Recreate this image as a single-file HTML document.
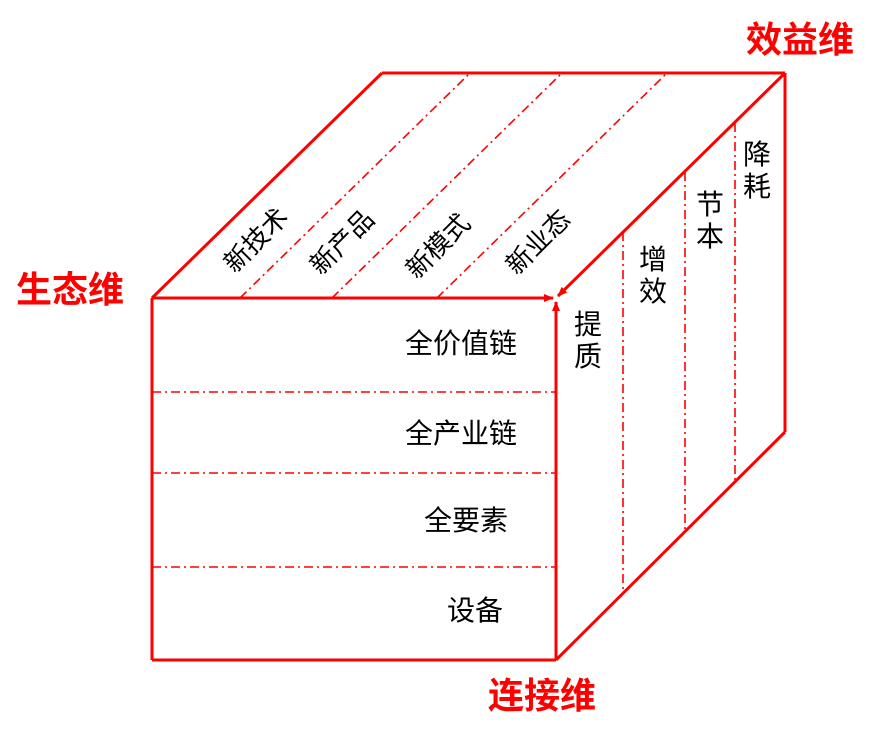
<!DOCTYPE html>
<html><head><meta charset="utf-8"><style>
html,body{margin:0;padding:0;background:#fff;}
svg{display:block;font-family:"Liberation Sans","Noto Sans CJK SC",sans-serif;}
</style></head><body>
<svg width="869" height="740" viewBox="0 0 869 740" xmlns="http://www.w3.org/2000/svg">
<defs>
<marker id="ah" markerWidth="10" markerHeight="10" refX="9" refY="5" orient="auto" markerUnits="userSpaceOnUse">
<path d="M0,1 L10,5 L0,9 z" fill="#f00"/></marker>
</defs>
<g stroke="#f00" stroke-width="3" fill="none">
<line x1="152" y1="298" x2="152" y2="660"/>
<line x1="152" y1="660" x2="556" y2="660"/>
<line x1="152" y1="298" x2="382" y2="73"/>
<line x1="382" y1="73" x2="785" y2="73"/>
<line x1="785" y1="73" x2="785" y2="432"/>
<line x1="785" y1="432" x2="556" y2="660"/>
<line x1="152" y1="298" x2="553" y2="298" marker-end="url(#ah)"/>
<line x1="556" y1="660" x2="556" y2="302" marker-end="url(#ah)"/>
<line x1="785" y1="73" x2="558" y2="296" marker-end="url(#ah)"/>
</g>
<g stroke="#f00" stroke-width="1.6" fill="none" stroke-dasharray="9,4,2,4">
<line x1="152" y1="392" x2="556" y2="392"/>
<line x1="152" y1="473" x2="556" y2="473"/>
<line x1="152" y1="567" x2="556" y2="567"/>
<line x1="240" y1="298" x2="470" y2="73"/>
<line x1="332" y1="298" x2="562" y2="73"/>
<line x1="437" y1="298" x2="667" y2="73"/>
<line x1="623" y1="232" x2="623" y2="593"/>
<line x1="685" y1="172" x2="685" y2="531"/>
<line x1="735" y1="123" x2="735" y2="482"/>
</g>
<g font-size="28" fill="#000" text-anchor="middle">
<text x="461" y="353">全价值链</text>
<text x="461" y="443">全产业链</text>
<text x="466" y="530">全要素</text>
<text x="475" y="620">设备</text>
<text x="588" y="334">提</text><text x="588" y="366">质</text>
<text x="653" y="269">增</text><text x="653" y="301">效</text>
<text x="710" y="214">节</text><text x="710" y="246">本</text>
<text x="757" y="164">降</text><text x="757" y="196">耗</text>
</g>
<g font-size="26" fill="#000" text-anchor="middle">
<text transform="translate(256,240) rotate(-45)" y="9">新技术</text>
<text transform="translate(342,242) rotate(-45)" y="9">新产品</text>
<text transform="translate(438,246) rotate(-45)" y="9">新模式</text>
<text transform="translate(538,242) rotate(-45)" y="9">新业态</text>
</g>
<g font-size="36" font-weight="bold" fill="#f00" text-anchor="middle">
<text x="800" y="52">效益维</text>
<text x="70" y="302">生态维</text>
<text x="542" y="708">连接维</text>
</g>
</svg>
</body></html>
